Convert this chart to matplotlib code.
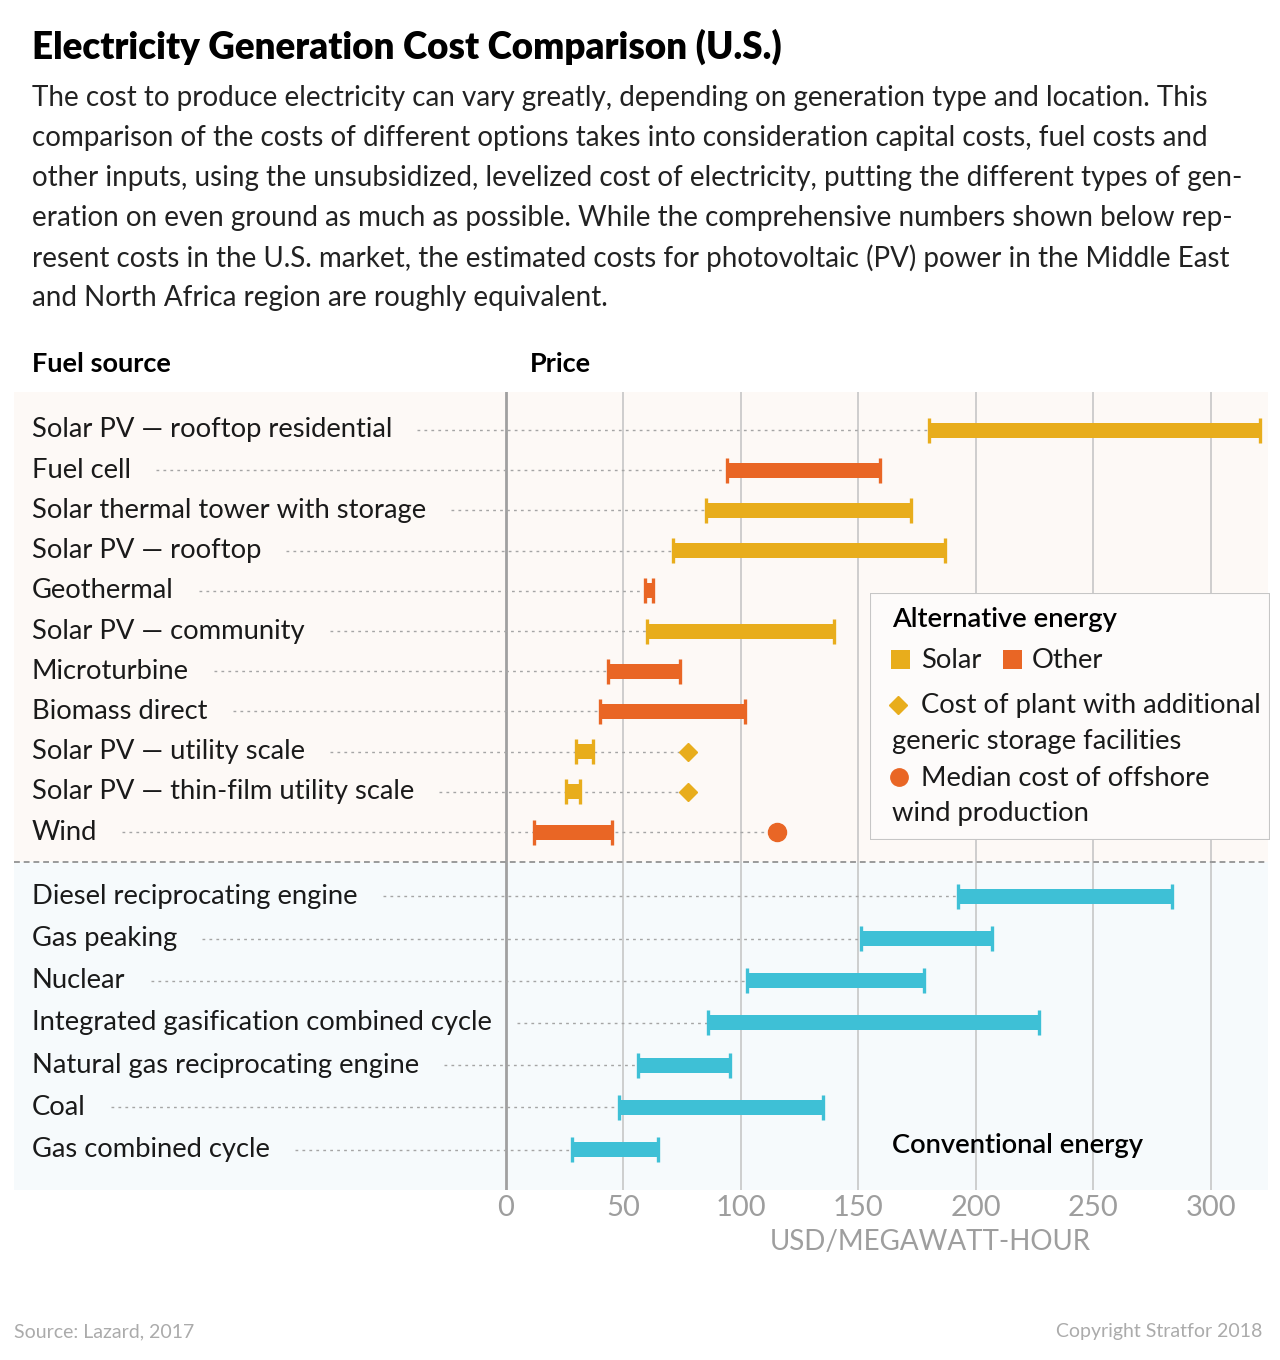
import matplotlib
matplotlib.use('Agg')
import matplotlib.pyplot as plt
import matplotlib.transforms as mtransforms
import matplotlib.patches as patches
import numpy as np

plt.rcParams['font.family'] = ['Lato', 'DejaVu Sans']

# data (USD/MWh)
alt_labels = ["Solar PV — rooftop residential", "Fuel cell", "Solar thermal tower with storage",
              "Solar PV — rooftop", "Geothermal", "Solar PV — community", "Microturbine",
              "Biomass direct", "Solar PV — utility scale", "Solar PV — thin-film utility scale", "Wind"]
alt_low = [180, 94, 85, 71, 59, 60, 43.5, 40, 30, 25.5, 12]
alt_high = [321, 159, 172.5, 187, 62.5, 139.5, 74, 101.5, 37, 31.5, 45]
alt_kind = ["solar", "other", "solar", "solar", "other", "solar", "other", "other", "solar", "solar", "other"]

storage_rows = ["Solar PV — utility scale", "Solar PV — thin-film utility scale"]
storage_cost = [77.5, 77.5]
offshore_row = "Wind"
offshore_median = 115.5

conv_labels = ["Diesel reciprocating engine", "Gas peaking", "Nuclear",
               "Integrated gasification combined cycle", "Natural gas reciprocating engine",
               "Coal", "Gas combined cycle"]
conv_low = [192.5, 151, 102.5, 86, 56, 48, 28]
conv_high = [283.5, 207, 178, 227, 95.5, 135, 64.5]

ticks = [0, 50, 100, 150, 200, 250, 300]

# colours
c_solar = '#E8AD1C'
c_other = '#E96625'
c_conv = '#3EC0D6'
bg_alt = '#FDF9F6'
bg_conv = '#F6FAFC'
txt = '#1A1A1A'
grey = '#9E9E9E'

W, H = 1280, 1360
fig = plt.figure(figsize=(12.8, 13.6), dpi=100)
fig.patch.set_facecolor('white')

def fx(px):
    return px / W

def fy(py):
    return 1 - py / H

# main axes spans the whole shaded band, labels live inside it
ax = fig.add_axes([fx(14), fy(1190), fx(1268) - fx(14), fy(392) - fy(1190)])
ppu = (1211 - 506) / 300.0
ax.set_xlim(-(506 - 14) / ppu, 300 + (1268 - 1211) / ppu)
row_px = 40.2
n_alt = len(alt_labels)
alt_y = np.arange(n_alt)
conv_y = n_alt + 0.6 + 1.05 * np.arange(len(conv_labels))
ax.set_ylim((1190 - 430) / row_px, -(430 - 392) / row_px)
sep_y = (862 - 430) / row_px
ax.axis('off')

ax.axhspan(-(430 - 392) / row_px, sep_y, color=bg_alt, zorder=0, lw=0)
ax.axhspan(sep_y, (1190 - 430) / row_px, color=bg_conv, zorder=0, lw=0)

for t in ticks[1:]:
    ax.axvline(t, color='#C2C2C2', lw=1.1, zorder=1)
ax.axvline(0, color='#A0A0A0', lw=2, zorder=1)
ax.axhline(sep_y, color='#9A9A9A', lw=1.4, ls=(0, (3, 2)), zorder=2)

bar_h = 15 / row_px
cap_h = 25 / row_px
lead_x0 = (32 - 14) / 1254
blend = mtransforms.blended_transform_factory(ax.transAxes, ax.transData)

colors = {"solar": c_solar, "other": c_other}
rows = []
for lab, lo, hi, k, y in zip(alt_labels, alt_low, alt_high, alt_kind, alt_y):
    rows.append((lab, lo, hi, colors[k], y))
for lab, lo, hi, y in zip(conv_labels, conv_low, conv_high, conv_y):
    rows.append((lab, lo, hi, c_conv, y))

label_texts = []
for lab, lo, hi, c, y in rows:
    ax.barh(y, hi - lo, left=lo, height=bar_h, color=c, zorder=4, lw=0)
    ax.vlines([lo, hi], y - cap_h / 2, y + cap_h / 2, color=c, lw=2.4, zorder=4)
    t = ax.text(lead_x0, y, lab, transform=blend, ha='left', va='center',
                fontsize=19.7, color=txt, zorder=5)
    label_texts.append(t)

# extra markers
for lab, v in zip(storage_rows, storage_cost):
    y = alt_y[alt_labels.index(lab)]
    ax.plot(v, y, marker='D', ms=9.5, color=c_solar, mec=c_solar, zorder=5, ls='none')
wy = alt_y[alt_labels.index(offshore_row)]
ax.plot(offshore_median, wy, marker='o', ms=13, color=c_other, mec=c_other, zorder=5, ls='none')

# dotted leaders from the label to the bar / marker
fig.canvas.draw()
renderer = fig.canvas.get_renderer()
inv = ax.transData.inverted()
for (lab, lo, hi, c, y), t in zip(rows, label_texts):
    bb = t.get_window_extent(renderer)
    x_start = inv.transform((bb.x1 + 25, 0))[0]
    x_end = lo
    if lab in storage_rows:
        x_end = storage_cost[storage_rows.index(lab)]
    if lab == offshore_row:
        x_end = offshore_median
    if x_end > x_start:
        ax.plot([x_start, x_end], [y, y], color='#A5A5A5', lw=1, ls=(0, (2, 3)), zorder=3)

# x tick labels
for t in ticks:
    ax.text(t, (1208 - 430) / row_px, str(t), ha='center', va='center', fontsize=21,
            color=grey)
fig.text(fx(930), fy(1242), "USD/MEGAWATT-HOUR", ha='center', va='center', fontsize=20,
         color=grey)

# titles and intro
fig.text(fx(32), fy(47), "Electricity Generation Cost Comparison (U.S.)", ha='left', va='center',
         fontsize=26.5, fontweight='heavy', color='black')
intro = [
    "The cost to produce electricity can vary greatly, depending on generation type and location. This",
    "comparison of the costs of different options takes into consideration capital costs, fuel costs and",
    "other inputs, using the unsubsidized, levelized cost of electricity, putting the different types of gen-",
    "eration on even ground as much as possible. While the comprehensive numbers shown below rep-",
    "resent costs in the U.S. market, the estimated costs for photovoltaic (PV) power in the Middle East",
    "and North Africa region are roughly equivalent.",
]
for i, line in enumerate(intro):
    fig.text(fx(32), fy(98 + 40 * i), line, ha='left', va='center', fontsize=20, color='#222222')

fig.text(fx(32), fy(364), "Fuel source", ha='left', va='center', fontsize=19.5, fontweight='bold', color='black')
fig.text(fx(530), fy(364), "Price", ha='left', va='center', fontsize=19.5, fontweight='bold', color='black')

# legend box
lax = fig.add_axes([fx(870), fy(840), fx(1270) - fx(870), fy(593) - fy(840)])
lax.set_xlim(0, 400)
lax.set_ylim(247, 0)
lax.axis('off')
lax.add_patch(patches.Rectangle((0, 0), 400, 247, fc='#FDFBFA', ec='#C6C6C6', lw=1.5, zorder=0))
lax.text(22, 27, "Alternative energy", fontsize=19.7, fontweight='semibold', va='center', ha='left', color='black')
lax.add_patch(patches.Rectangle((21, 57), 19, 19, fc=c_solar, ec='none'))
lax.text(51, 67, "Solar", fontsize=19.7, va='center', ha='left', color=txt)
lax.add_patch(patches.Rectangle((133, 57), 19, 19, fc=c_other, ec='none'))
lax.text(162, 67, "Other", fontsize=19.7, va='center', ha='left', color=txt)
lax.plot(28, 112, marker='D', ms=9, color=c_solar, ls='none')
lax.text(51, 113, "Cost of plant with additional", fontsize=19.7, va='center', ha='left', color=txt)
lax.text(22, 149, "generic storage facilities", fontsize=19.7, va='center', ha='left', color=txt)
lax.plot(29, 184, marker='o', ms=12.5, color=c_other, ls='none')
lax.text(51, 185, "Median cost of offshore", fontsize=19.7, va='center', ha='left', color=txt)
lax.text(22, 221, "wind production", fontsize=19.7, va='center', ha='left', color=txt)

fig.text(fx(892), fy(1146), "Conventional energy", ha='left', va='center', fontsize=19.7,
         fontweight='semibold', color='black')

# footer
fig.text(fx(14), fy(1332), "Source: Lazard, 2017", ha='left', va='center', fontsize=14,
         color='#ABABAB')
fig.text(fx(1262), fy(1332), "Copyright Stratfor 2018", ha='right', va='center', fontsize=14,
         color='#ABABAB')

fig.savefig('out.png', dpi=100, facecolor='white')
